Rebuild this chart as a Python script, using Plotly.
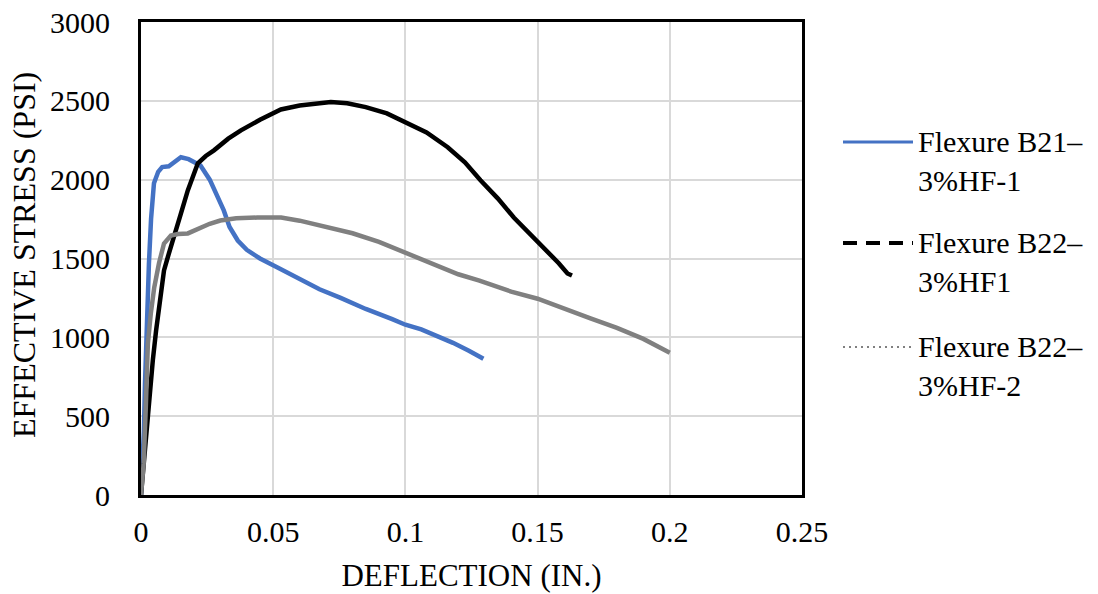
import plotly.graph_objects as go

# ---------------- data ----------------
series_names = ["Flexure B21–<br>3%HF-1", "Flexure B22–<br>3%HF1", "Flexure B22–<br>3%HF-2"]

b21_x = [0, 0.0005, 0.0011, 0.0015, 0.0019, 0.0025, 0.003, 0.0038, 0.0049, 0.0065, 0.008,
         0.0105, 0.013, 0.0151, 0.018, 0.020, 0.0225, 0.026, 0.0295, 0.0313, 0.0335, 0.0366,
         0.040, 0.045, 0.052, 0.06, 0.0675, 0.0755, 0.085, 0.095, 0.100, 0.106, 0.112, 0.118,
         0.124, 0.1295]
b21_y = [0, 150, 407, 700, 960, 1250, 1468, 1750, 1977, 2050, 2080,
         2085, 2120, 2142, 2130, 2110, 2090, 2000, 1880, 1805, 1700, 1614,
         1555, 1500, 1440, 1370, 1305, 1250, 1180, 1115, 1080, 1050, 1010, 965,
         915, 864]

b22a_x = [0, 0.001, 0.002, 0.003, 0.0045, 0.0057, 0.0072, 0.0087, 0.0105, 0.0125, 0.015,
          0.0177, 0.0215, 0.0245, 0.0276, 0.033, 0.0378, 0.045, 0.0529, 0.06, 0.0718, 0.078,
          0.085, 0.093, 0.1008, 0.108, 0.116, 0.1225, 0.1284, 0.135, 0.141, 0.147, 0.153,
          0.158, 0.1613, 0.163]
b22a_y = [0, 200, 420, 616, 860, 1042, 1240, 1424, 1530, 1633, 1780,
          1932, 2104, 2150, 2186, 2260, 2313, 2380, 2445, 2470, 2492, 2485,
          2460, 2420, 2358, 2300, 2206, 2110, 1996, 1880, 1760, 1660, 1560,
          1470, 1405, 1392]

b22b_x = [0, 0.001, 0.0018, 0.0026, 0.0037, 0.005, 0.0068, 0.0087, 0.0113, 0.014, 0.0177,
          0.022, 0.026, 0.030, 0.036, 0.044, 0.053, 0.06, 0.07, 0.08, 0.09, 0.1008, 0.11,
          0.12, 0.128, 0.14, 0.15, 0.16, 0.17, 0.18, 0.19, 0.2]
b22b_y = [0, 197, 550, 960, 1150, 1316, 1470, 1595, 1646, 1655, 1659,
          1690, 1720, 1741, 1755, 1760, 1760, 1740, 1700, 1660, 1605, 1530, 1470,
          1400, 1360, 1290, 1245, 1180, 1120, 1060, 990, 903]

x_ticks = [0, 0.05, 0.1, 0.15, 0.2, 0.25]
x_tick_labels = ["0", "0.05", "0.1", "0.15", "0.2", "0.25"]
y_ticks = [0, 500, 1000, 1500, 2000, 2500, 3000]
y_tick_labels = ["0", "500", "1000", "1500", "2000", "2500", "3000"]

x_title = "DEFLECTION (IN.)"
y_title = "EFFECTIVE STRESS (PSI)"

# ---------------- styles ----------------
colors = ["#4472C4", "#000000", "#808080"]
legend_dash = ["solid", "14px,9px", "2px,4px"]
legend_width = [3, 4, 2]
FONT = "Liberation Serif"

W, H = 1098, 594
L, R, T, B = 141, 802, 22, 495

fig = go.Figure()
for xs, ys, c, n in zip([b21_x, b22a_x, b22b_x], [b21_y, b22a_y, b22b_y], colors, series_names):
    fig.add_trace(go.Scatter(x=xs, y=ys, mode="lines", name=n.replace("<br>", " "),
                             line=dict(color=c, width=4.5), showlegend=False))


def px_x(p):
    return (p - L) / (R - L)


def px_y(p):
    return (B - p) / (B - T)


# manual legend (long line samples like the reference)
legend_rows = [142, 243, 347]
shapes = []
annotations = []
for i, (n, row) in enumerate(zip(series_names, legend_rows)):
    shapes.append(dict(type="line", xref="paper", yref="paper",
                       x0=px_x(843), x1=px_x(913), y0=px_y(row), y1=px_y(row),
                       line=dict(color=colors[i], width=legend_width[i], dash=legend_dash[i])))
    annotations.append(dict(xref="paper", yref="paper", x=px_x(916), y=px_y(row - 19),
                            xanchor="left", yanchor="top", align="left", showarrow=False,
                            text=n, font=dict(family=FONT, size=30, color="#000")))

# y-axis title as rotated annotation
annotations.append(dict(xref="paper", yref="paper", x=px_x(24), y=px_y(255),
                        xanchor="center", yanchor="middle", textangle=-90, showarrow=False,
                        text=y_title, font=dict(family=FONT, size=32, color="#000")))

fig.update_layout(
    width=W, height=H,
    margin=dict(l=L, r=W - R, t=T, b=H - B, pad=0, autoexpand=False),
    paper_bgcolor="white", plot_bgcolor="white",
    font=dict(family=FONT, size=30, color="#000"),
    shapes=shapes, annotations=annotations,
    showlegend=False,
)
fig.update_xaxes(
    range=[0, 0.25], tickvals=x_ticks, ticktext=x_tick_labels,
    showgrid=True, gridcolor="#d9d9d9", gridwidth=2,
    showline=True, linecolor="#000", linewidth=3, mirror=True,
    ticks="", ticklabelstandoff=8, zeroline=False, automargin=False,
    tickfont=dict(family=FONT, size=30, color="#000"),
    title=dict(text=x_title, standoff=18, font=dict(family=FONT, size=31, color="#000")),
)
fig.update_yaxes(
    range=[0, 3000], tickvals=y_ticks, ticktext=y_tick_labels,
    showgrid=True, gridcolor="#d9d9d9", gridwidth=2,
    showline=True, linecolor="#000", linewidth=3, mirror=True,
    ticks="", ticklabelstandoff=22, zeroline=False, automargin=False,
    tickfont=dict(family=FONT, size=30, color="#000"),
)

fig.write_html("out.html", config={"displayModeBar": False},
               post_script="document.body.style.margin='0';document.body.style.overflow='hidden';")
